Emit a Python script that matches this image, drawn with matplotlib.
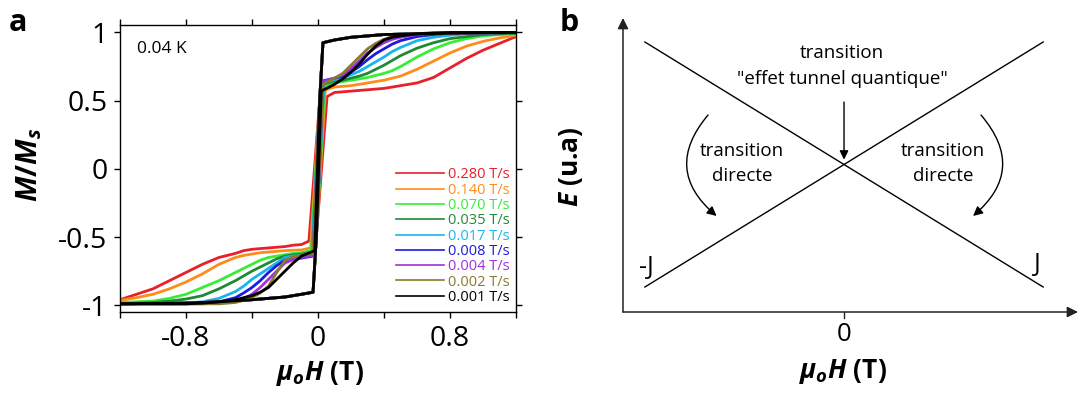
import matplotlib
matplotlib.use("Agg")
import matplotlib.pyplot as plt

plt.rcParams["font.family"] = ["Open Sans", "DejaVu Sans"]
plt.rcParams["axes.unicode_minus"] = False
plt.rcParams["mathtext.fontset"] = "custom"
plt.rcParams["mathtext.it"] = "Open Sans:italic:bold"
plt.rcParams["mathtext.rm"] = "Open Sans:bold"
plt.rcParams["mathtext.bf"] = "Open Sans:bold"

# ---- panel a data: hysteresis loops M/Ms vs field at 0.04 K ----
rates = ["0.280 T/s", "0.140 T/s", "0.070 T/s", "0.035 T/s", "0.017 T/s",
         "0.008 T/s", "0.004 T/s", "0.002 T/s", "0.001 T/s"]
colors = ["#e8202a", "#ff8c1a", "#35ee35", "#1f8a35", "#1ab4ec",
          "#1a1ae0", "#a031e0", "#8a7a2c", "#000000"]

# saturated legs (same for every rate)
top_h = [1.2, 0.8, 0.6, 0.4, 0.2, 0.1, 0.03, 0.01]
top_m = [1.0, 0.995, 0.99, 0.985, 0.965, 0.945, 0.925, 0.5]
bot_h = [-1.2, -0.8, -0.6, -0.4, -0.2, -0.1, -0.03, -0.01]
bot_m = [-0.99, -0.985, -0.975, -0.96, -0.94, -0.92, -0.905, -0.5]

# top of the zero-field jump
jump_h = [0.055, 0.045, 0.04, 0.035, 0.035, 0.03, 0.03, 0.03, 0.02]
jump_up = [0.53, 0.58, 0.60, 0.62, 0.63, 0.645, 0.64, 0.62, 0.57]
jump_dn = [-0.53, -0.58, -0.60, -0.61, -0.62, -0.64, -0.635, -0.62, -0.60]

# |field| grid for the plateaus and direct transitions
grid_h = [0.1, 0.15, 0.2, 0.25, 0.3, 0.35, 0.4, 0.45, 0.5,
          0.6, 0.7, 0.8, 0.9, 1.0, 1.1, 1.2]

# ascending sweep, positive fields
up_m = [
    [0.56, 0.565, 0.57, 0.575, 0.58, 0.585, 0.59, 0.60, 0.61, 0.63, 0.67, 0.74, 0.81, 0.87, 0.92, 0.97],
    [0.60, 0.605, 0.61, 0.62, 0.63, 0.64, 0.65, 0.665, 0.68, 0.73, 0.79, 0.85, 0.90, 0.935, 0.96, 0.98],
    [0.63, 0.64, 0.65, 0.66, 0.67, 0.685, 0.70, 0.72, 0.75, 0.82, 0.88, 0.925, 0.955, 0.975, 0.985, 0.99],
    [0.645, 0.65, 0.665, 0.68, 0.70, 0.73, 0.76, 0.795, 0.83, 0.885, 0.925, 0.955, 0.97, 0.985, 0.99, 0.995],
    [0.655, 0.67, 0.69, 0.715, 0.75, 0.785, 0.82, 0.86, 0.89, 0.94, 0.965, 0.98, 0.99, 0.995, 1.0, 1.0],
    [0.665, 0.68, 0.71, 0.75, 0.80, 0.845, 0.88, 0.915, 0.94, 0.97, 0.985, 0.995, 1.0, 1.0, 1.0, 1.0],
    [0.665, 0.69, 0.735, 0.79, 0.85, 0.89, 0.925, 0.95, 0.965, 0.985, 0.995, 1.0, 1.0, 1.0, 1.0, 1.0],
    [0.665, 0.70, 0.76, 0.82, 0.88, 0.92, 0.95, 0.97, 0.98, 0.99, 1.0, 1.0, 1.0, 1.0, 1.0, 1.0],
    [0.62, 0.66, 0.71, 0.77, 0.84, 0.90, 0.945, 0.965, 0.975, 0.99, 0.995, 1.0, 1.0, 1.0, 1.0, 1.0],
]
# descending sweep, negative fields (same |H| grid)
down_m = [
    [-0.555, -0.56, -0.57, -0.575, -0.58, -0.585, -0.59, -0.60, -0.62, -0.65, -0.70, -0.76, -0.82, -0.88, -0.92, -0.96],
    [-0.595, -0.597, -0.60, -0.605, -0.61, -0.615, -0.625, -0.635, -0.65, -0.70, -0.77, -0.83, -0.88, -0.92, -0.945, -0.965],
    [-0.615, -0.62, -0.63, -0.64, -0.65, -0.67, -0.70, -0.73, -0.76, -0.82, -0.87, -0.92, -0.95, -0.97, -0.975, -0.98],
    [-0.625, -0.63, -0.64, -0.66, -0.69, -0.72, -0.75, -0.785, -0.82, -0.88, -0.93, -0.955, -0.97, -0.98, -0.985, -0.99],
    [-0.635, -0.64, -0.65, -0.69, -0.73, -0.77, -0.81, -0.86, -0.90, -0.95, -0.975, -0.985, -0.99, -0.99, -0.99, -0.99],
    [-0.655, -0.66, -0.67, -0.71, -0.76, -0.82, -0.87, -0.91, -0.945, -0.975, -0.985, -0.99, -0.99, -0.99, -0.99, -0.99],
    [-0.65, -0.665, -0.69, -0.75, -0.81, -0.87, -0.92, -0.95, -0.97, -0.985, -0.99, -0.99, -0.99, -0.99, -0.99, -0.99],
    [-0.635, -0.645, -0.67, -0.76, -0.86, -0.91, -0.945, -0.965, -0.98, -0.99, -0.99, -0.99, -0.99, -0.99, -0.99, -0.99],
    [-0.64, -0.69, -0.75, -0.81, -0.87, -0.905, -0.93, -0.945, -0.96, -0.975, -0.985, -0.99, -0.99, -0.99, -0.99, -0.99],
]

# ---- panel b data: two crossing levels -J / J ----
level_h = [-1.0, 1.0]
level_minus_j = [-1.0, 1.0]
level_plus_j = [1.0, -1.0]

fig = plt.figure(figsize=(10.78, 3.94), dpi=100)

# ================= panel a =================
ax = fig.add_axes([120 / 1078, 1 - 312 / 394, 396 / 1078, 287 / 394])
for i in range(len(rates)):
    h_up = bot_h + [jump_h[i]] + grid_h
    m_up = bot_m + [jump_up[i]] + up_m[i]
    h_dn = top_h + [-jump_h[i]] + [-h for h in grid_h]
    m_dn = top_m + [jump_dn[i]] + down_m[i]
    ax.plot(h_dn, m_dn, color=colors[i], lw=2.0, solid_joinstyle="round")
    ax.plot(h_up, m_up, color=colors[i], lw=2.0, solid_joinstyle="round",
            label=rates[i])

ax.set_xlim(-1.2, 1.2)
ax.set_ylim(-1.05, 1.055)
ax.set_xticks([-1.2, -0.8, -0.4, 0, 0.4, 0.8, 1.2])
ax.set_xticklabels(["", "-0.8", "", "0", "", "0.8", ""])
ax.set_yticks([-1, -0.5, 0, 0.5, 1])
ax.set_yticklabels(["-1", "-0.5", "0", "0.5", "1"])
ax.tick_params(direction="out", length=4, width=1, labelsize=20.5, pad=5,
               top=True, right=True)
for s in ax.spines.values():
    s.set_linewidth(1.0)

ax.text(0.043, 0.915, "0.04 K", transform=ax.transAxes, fontsize=12.5,
        va="center", ha="left")

leg = ax.legend(loc="lower right", bbox_to_anchor=(0.985, 0.025),
                frameon=False, fontsize=10.5, labelcolor="linecolor",
                handlelength=3.3, handletextpad=0.3, labelspacing=0.02,
                borderaxespad=0, borderpad=0)
for ln in leg.get_lines():
    ln.set_linewidth(1.2)

fig.text(320 / 1078, 1 - 373 / 394, r"$\mu_o H$ (T)", fontsize=19,
         fontweight="bold", ha="center", va="center")
fig.text(29 / 1078, 1 - 165 / 394, r"$M/M_s$", fontsize=21,
         fontweight="bold", ha="center", va="center", rotation=90)
fig.text(18 / 1078, 1 - 23 / 394, "a", fontsize=22, fontweight="bold",
         ha="center", va="center")

# ================= panel b =================
bx = fig.add_axes([623 / 1078, 1 - 312 / 394, 455 / 1078, 294 / 394])
x0, x1 = -1.11, 1.175
y0, y1 = -1.204, 1.196
bx.set_xlim(x0, x1)
bx.set_ylim(y0, y1)
bx.axis("off")

bx.plot(level_h, level_minus_j, color="black", lw=1.0)
bx.plot(level_h, level_plus_j, color="black", lw=1.0)

axis_style = dict(arrowstyle="-|>", color="#222222", lw=1.1,
                  mutation_scale=16, shrinkA=0, shrinkB=0)
bx.annotate("", xy=(x0, y1), xytext=(x0, y0), arrowprops=axis_style,
            annotation_clip=False)
bx.annotate("", xy=(x1, y0), xytext=(x0, y0), arrowprops=axis_style,
            annotation_clip=False)
bx.plot([0, 0], [y0, y0 - 0.045], color="#222222", lw=1.0, clip_on=False)
bx.text(0, y0 - 0.08, "0", fontsize=18.5, ha="center", va="top")

# tunnel transition arrow
bx.annotate("", xy=(0, 0.04), xytext=(0, 0.51),
            arrowprops=dict(arrowstyle="-|>", color="black", lw=1.0,
                            mutation_scale=13, shrinkA=0, shrinkB=0))
bx.text(-0.01, 0.914, "transition", fontsize=13.5, ha="center", va="center")
bx.text(-0.01, 0.70, '"effet tunnel quantique"', fontsize=13.5,
        ha="center", va="center")

# direct transitions (curved arrows)
bx.annotate("", xy=(-0.64, -0.42), xytext=(-0.683, 0.404),
            arrowprops=dict(arrowstyle="-|>", color="black", lw=1.0,
                            mutation_scale=14, shrinkA=0, shrinkB=0,
                            connectionstyle="arc3,rad=0.5"))
bx.annotate("", xy=(0.648, -0.42), xytext=(0.688, 0.404),
            arrowprops=dict(arrowstyle="-|>", color="black", lw=1.0,
                            mutation_scale=14, shrinkA=0, shrinkB=0,
                            connectionstyle="arc3,rad=-0.5"))
for hx in (-0.513, 0.497):
    bx.text(hx, 0.114, "transition", fontsize=13.5, ha="center", va="center")
    bx.text(hx, -0.091, "directe", fontsize=13.5, ha="center", va="center")

bx.text(-0.995, -0.842, "-J", fontsize=18, ha="center", va="center")
bx.text(0.97, -0.82, "J", fontsize=18, ha="center", va="center")

fig.text(843 / 1078, 1 - 371 / 394, r"$\mu_o H$ (T)", fontsize=19,
         fontweight="bold", ha="center", va="center")
fig.text(571 / 1078, 1 - 167 / 394, r"$E$ (u.a)", fontsize=19,
         fontweight="bold", ha="center", va="center", rotation=90)
fig.text(569 / 1078, 1 - 23 / 394, "b", fontsize=22, fontweight="bold",
         ha="center", va="center")

fig.savefig("out.png", dpi=100)
